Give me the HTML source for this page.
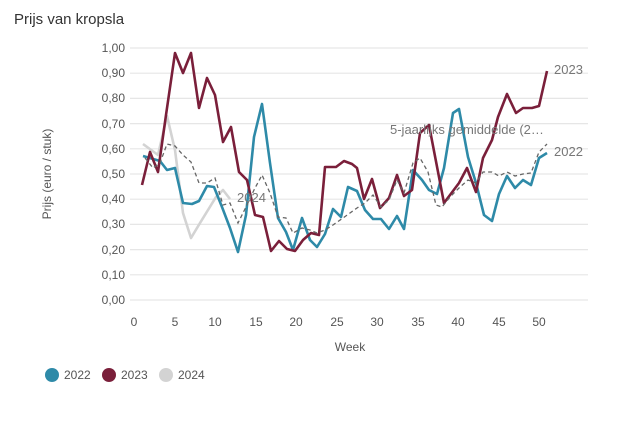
<!DOCTYPE html>
<html><head><meta charset="utf-8"><style>
body{margin:0;background:#fff;}
svg{font-family:"Liberation Sans",sans-serif;}
</style></head><body>
<svg width="626" height="417" viewBox="0 0 626 417">
<text x="14" y="24" font-size="15" fill="#333">Prijs van kropsla</text>
<g stroke="#e6e6e6" stroke-width="1.2">
<line x1="130" x2="588" y1="48" y2="48"/><line x1="130" x2="588" y1="73.2" y2="73.2"/><line x1="130" x2="588" y1="98.4" y2="98.4"/><line x1="130" x2="588" y1="123.6" y2="123.6"/><line x1="130" x2="588" y1="148.8" y2="148.8"/><line x1="130" x2="588" y1="174" y2="174"/><line x1="130" x2="588" y1="199.2" y2="199.2"/><line x1="130" x2="588" y1="224.4" y2="224.4"/><line x1="130" x2="588" y1="249.6" y2="249.6"/><line x1="130" x2="588" y1="274.8" y2="274.8"/><line x1="130" x2="588" y1="300" y2="300"/>
</g>
<g font-size="12" fill="#555" text-anchor="end">
<text x="125" y="52">1,00</text><text x="125" y="77">0,90</text><text x="125" y="102">0,80</text><text x="125" y="128">0,70</text><text x="125" y="153">0,60</text><text x="125" y="178">0,50</text><text x="125" y="203">0,40</text><text x="125" y="228">0,30</text><text x="125" y="254">0,20</text><text x="125" y="279">0,10</text><text x="125" y="304">0,00</text>
</g>
<g font-size="12" fill="#555" text-anchor="middle">
<text x="134" y="326">0</text><text x="175" y="326">5</text><text x="215" y="326">10</text><text x="256" y="326">15</text><text x="296" y="326">20</text><text x="337" y="326">25</text><text x="377" y="326">30</text><text x="418" y="326">35</text><text x="458" y="326">40</text><text x="499" y="326">45</text><text x="539" y="326">50</text>
</g>
<text x="350" y="351" font-size="12" fill="#555" text-anchor="middle">Week</text>
<text transform="translate(51,174) rotate(-90)" font-size="12" fill="#555" text-anchor="middle">Prijs (euro / stuk)</text>
<g fill="none" stroke-width="2.6" stroke-linejoin="round">
<polyline stroke="#d3d3d3" points="143,144 158,155 167,116 175,150 183,213 191,238 200,223 208,210 216,197 223,190 230,199"/>
<polyline stroke="#2e8aa8" points="143,156 160,161 167,170 175,168 183,203 192,204 199,201 207,186 214,187 222,207 230,228 238,252 246,215 254,137 262,104 270,163 278,218 286,232 293,250 302,218 310,240 317,247 325,234 333,209 341,217 348,187 357,191 365,210 373,219 381,219 389,229 397,216 404,229 413,170 422,180 429,190 437,194 444,168 453,113 459,109 468,157 476,183 484,215 492,221 499,194 507,176 515,188 523,180 531,185 539,158 547,153"/>
<polyline stroke="#7a1f3a" points="142,185 150,152 158,172 166,115 175,53 183,73 191,53 199,108 207,78 215,95 223,142 231,127 239,172 247,180 255,215 263,217 271,251 279,241 287,249 295,251 303,240 311,233 319,235 325,167 336,167 344,161 352,164 357,168 364,199 372,179 380,208 389,198 397,175 404,196 412,190 420,133 429,125 444,203 459,183 467,168 476,192 483,158 492,140 498,117 507,94 516,113 523,108 532,108 539,106 547,71"/>
</g>
<polyline fill="none" stroke="#666" stroke-width="1.3" stroke-dasharray="4,3" points="145,158 153,168 160,163 167,144 175,146 183,155 191,162 199,183 207,183 215,178 223,205 230,203 238,223 246,207 254,190 262,175 270,193 278,217 286,218 293,233 302,228 310,230 317,233 325,230 333,225 343,218 350,213 357,208 365,203 373,195 381,207 389,200 397,180 404,193 413,163 420,158 428,172 436,205 442,207 450,197 460,187 468,180 476,183 483,172 492,172 499,176 507,172 515,176 523,174 531,173 539,152 547,144"/>
<g font-size="13" fill="#777">
<text x="554" y="74">2023</text>
<text x="554" y="156">2022</text>
<text x="237" y="202">2024</text>
<text x="390" y="134">5-jaarlijks gemiddelde (2…</text>
</g>
<g font-size="12" fill="#555">
<circle cx="52" cy="375" r="7" fill="#2e8aa8"/><text x="64" y="379">2022</text>
<circle cx="109" cy="375" r="7" fill="#7a1f3a"/><text x="121" y="379">2023</text>
<circle cx="166" cy="375" r="7" fill="#d3d3d3"/><text x="178" y="379">2024</text>
</g>
</svg>
</body></html>
